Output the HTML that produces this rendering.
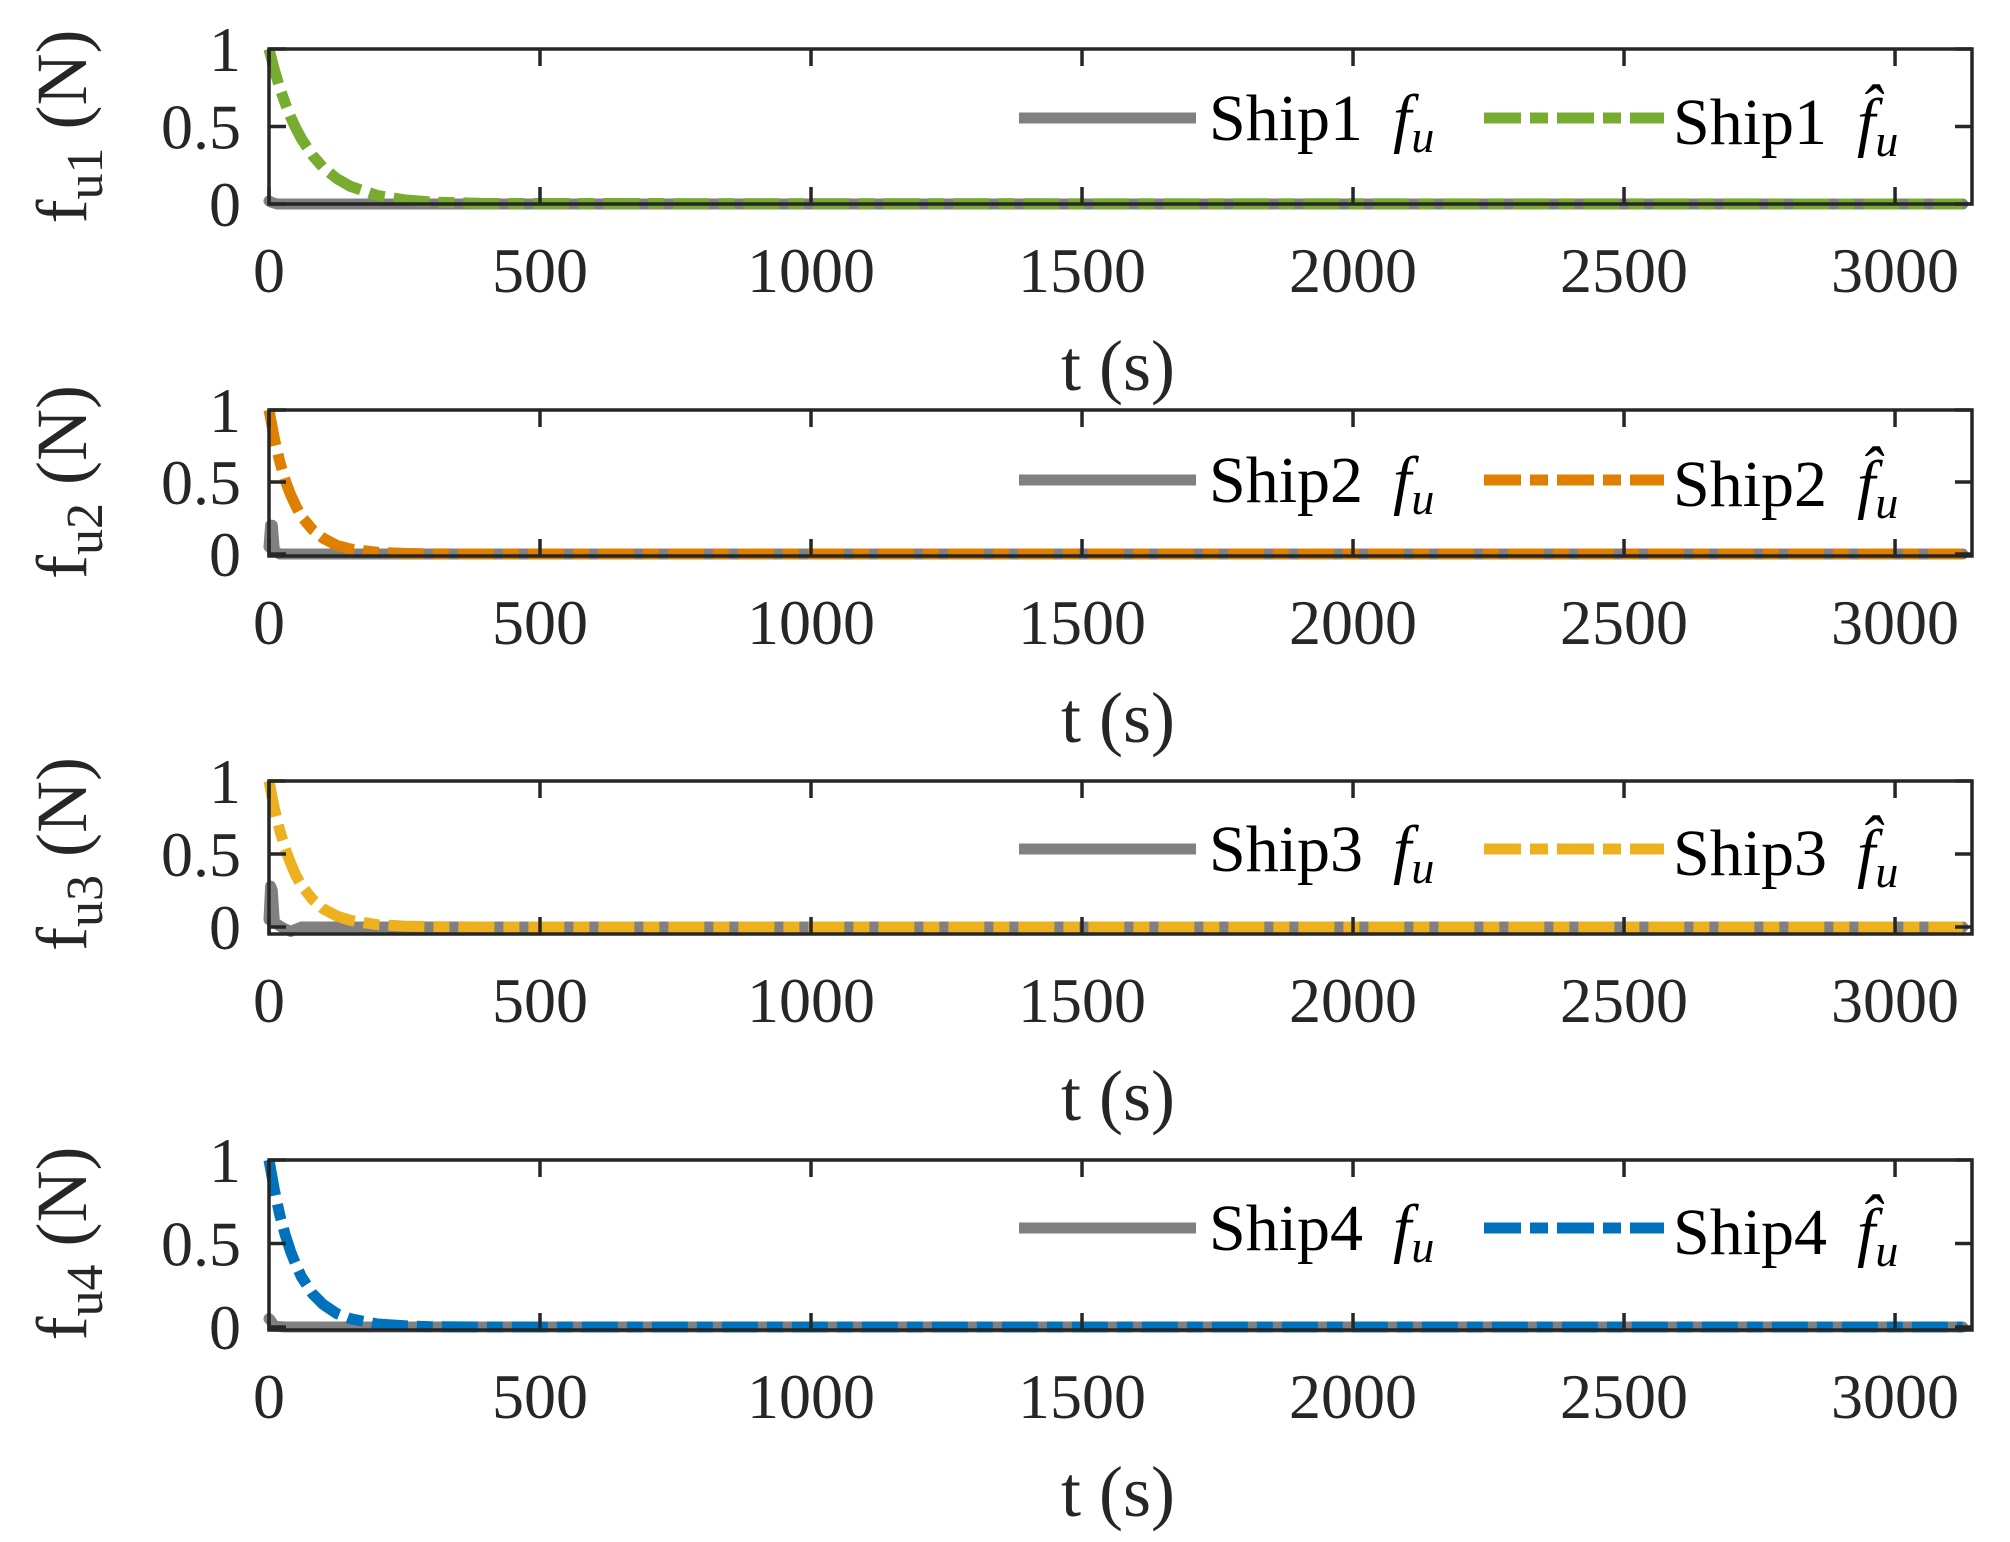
<!DOCTYPE html>
<html><head><meta charset="utf-8">
<style>
html,body{margin:0;padding:0;background:#fff;}
svg{display:block;font-family:"Liberation Serif",serif;}
</style></head>
<body>
<svg id="chart" width="2010" height="1542" viewBox="0 0 2010 1542" xmlns="http://www.w3.org/2000/svg"></svg>
<script>
// ---- data ----
const xTicks = [0, 500, 1000, 1500, 2000, 2500, 3000];
const yTicks = [0, 0.5, 1];
const tHat = [0, 10, 20, 30, 40, 50, 60, 80, 100, 125, 150, 200, 250, 300, 400, 3125];
const ship1Hat = [1, 0.865, 0.748, 0.648, 0.56, 0.485, 0.42, 0.314, 0.235, 0.164, 0.114, 0.055, 0.027, 0.013, 0.003, 0];
const ship2Hat = [1, 0.8, 0.64, 0.51, 0.41, 0.33, 0.26, 0.17, 0.11, 0.06, 0.035, 0.012, 0.004, 0.001, 0, 0];
const ship3Hat = [1, 0.81, 0.66, 0.535, 0.435, 0.35, 0.285, 0.19, 0.125, 0.075, 0.045, 0.016, 0.006, 0.002, 0, 0];
const ship4Hat = [1, 0.82, 0.67, 0.55, 0.45, 0.37, 0.3, 0.2, 0.135, 0.08, 0.05, 0.018, 0.007, 0.002, 0, 0];
const t1 = [0, 5, 15, 40, 100, 3125];
const ship1F = [0.02, 0.01, 0, 0, 0, 0];
const t2 = [0, 3, 6, 10, 20, 60, 3125];
const ship2F = [0.05, 0.2, 0.2, 0.02, 0, 0, 0];
const t3 = [0, 3, 6, 10, 25, 40, 60, 100, 3125];
const ship3F = [0.05, 0.28, 0.25, 0.03, -0.005, -0.03, 0, 0, 0];
const t4 = [0, 3, 10, 30, 100, 3125];
const ship4F = [0.05, 0.04, 0.005, 0, 0, 0];
const xMax = 3142;

const panels = [
  {top:49, zero:204, bottom:204, sub:'u1', ship:'Ship1', color:'#77AC30', tF:t1, f:ship1F, hat:ship1Hat, leg:118},
  {top:410, zero:554, bottom:556, sub:'u2', ship:'Ship2', color:'#DF7F00', tF:t2, f:ship2F, hat:ship2Hat, leg:480},
  {top:781, zero:927, bottom:934, sub:'u3', ship:'Ship3', color:'#EDB120', tF:t3, f:ship3F, hat:ship3Hat, leg:849},
  {top:1160, zero:1327, bottom:1330, sub:'u4', ship:'Ship4', color:'#0072BD', tF:t4, f:ship4F, hat:ship4Hat, leg:1228}
];
const X0 = 269, X1 = 1972;
const NS = 'http://www.w3.org/2000/svg';
const svg = document.getElementById('chart');
function mk(tag, attrs, parent){ const e=document.createElementNS(NS,tag); for(const k in attrs) e.setAttribute(k,attrs[k]); (parent||svg).appendChild(e); return e; }
const xs = v => X0 + v/xMax*(X1-X0);

panels.forEach((p,i)=>{
  const ys = v => p.zero - v*(p.zero-p.top);
  const g = mk('g',{});
  
  
  const d1 = p.tF.map((t,j)=>(j?'L':'M')+xs(t).toFixed(1)+' '+ys(p.f[j]).toFixed(1)).join(' ');
  const gl = mk('path',{d:d1,fill:'none',stroke:'#808080','stroke-width':11,'stroke-linejoin':'round','stroke-linecap':'round'},g);
  
  
  const d2 = tHat.map((t,j)=>(j?'L':'M')+xs(t).toFixed(1)+' '+ys(p.hat[j]).toFixed(1)).join(' ');
  const hl = mk('path',{d:d2,fill:'none',stroke:p.color,'stroke-width':11,'stroke-dasharray':'36 9 16 9'},g);
  
  
  const fr = mk('rect',{x:X0,y:p.top,width:X1-X0,height:p.bottom-p.top,fill:'none',stroke:'#262626','stroke-width':3.5},g);
  
  
  xTicks.forEach(v=>{
    const x=xs(v);
    mk('line',{x1:x,y1:p.bottom,x2:x,y2:p.bottom-17,stroke:'#262626','stroke-width':3.5},g);
    mk('line',{x1:x,y1:p.top,x2:x,y2:p.top+17,stroke:'#262626','stroke-width':3.5},g);
    const tl = mk('text',{x:x,y:p.bottom+88,'font-size':64,'text-anchor':'middle',fill:'#262626'},g);
    tl.textContent=v;
    
    
  });
  yTicks.forEach(v=>{
    const y=ys(v);
    mk('line',{x1:X0,y1:y,x2:X0+17,y2:y,stroke:'#262626','stroke-width':3.5},g);
    mk('line',{x1:X1,y1:y,x2:X1-17,y2:y,stroke:'#262626','stroke-width':3.5},g);
    const tl = mk('text',{x:241,y:y+22,'font-size':64,'text-anchor':'end',fill:'#262626'},g);
    tl.textContent=v;
    
    
  });
  const xl = mk('text',{x:1118,y:p.bottom+186,'font-size':72,'text-anchor':'middle',fill:'#262626'},g);
  xl.textContent='t (s)';
  
  
  const cy=(p.top+p.zero)/2;
  const yl = mk('text',{x:0,y:0,'font-size':72,'text-anchor':'middle',fill:'#262626',transform:'translate(86,'+cy+') rotate(-90)'},g);
  yl.innerHTML='f<tspan dy="16" font-size="52">'+p.sub+'</tspan><tspan dy="-16"> (N)</tspan>';
  
  
  const L = p.leg;
  const le1 = mk('g',{},g);
  
  
  mk('line',{x1:1019,y1:L,x2:1196,y2:L,stroke:'#808080','stroke-width':11},le1);
  const t1e = mk('text',{x:1209,y:L+22,'font-size':66,fill:'#000'},le1);
  t1e.innerHTML=p.ship+'<tspan dx="30" font-style="italic">f</tspan><tspan font-style="italic" font-size="46" dy="12">u</tspan>';
  const le2 = mk('g',{},g);
  
  
  mk('line',{x1:1484,y1:L,x2:1664,y2:L,stroke:p.color,'stroke-width':11,'stroke-dasharray':'37 9 18 9'},le2);
  const t2e = mk('text',{x:1673,y:L+26,'font-size':66,fill:'#000'},le2);
  t2e.innerHTML=p.ship+'<tspan dx="30" font-style="italic">f&#770;</tspan><tspan font-style="italic" font-size="46" dy="12">u</tspan>';
});
</script>
</body></html>
